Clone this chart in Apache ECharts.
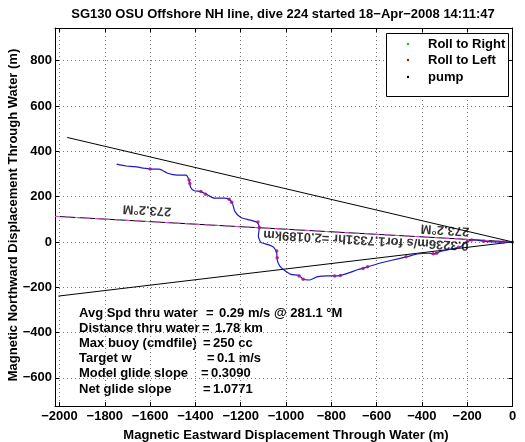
<!DOCTYPE html>
<html><head><meta charset="utf-8">
<script src="https://cdn.jsdelivr.net/npm/echarts@6/dist/echarts.min.js"></script>
<style>html,body{margin:0;padding:0;background:#fff}#c{width:525px;height:442px}</style>
</head><body><div id="c"></div>
<script>
// ---- data (metres) ----
const xTicks = [-2000,-1800,-1600,-1400,-1200,-1000,-800,-600,-400,-200,0];
const yTicks = [-600,-400,-200,0,200,400,600,800];
const trackEast  = [-1748,-1707,-1670,-1626,-1596,-1560,-1523,-1479,-1442,-1428,-1421,-1405,-1376,-1346,-1317,-1273,-1251,-1236,-1226,-1200,-1160,-1126,-1118,-1122,-1111,-1076,-1054,-1041,-1039,-1028,-1010,-979,-942,-924,-895,-864,-817,-773,-729,-684,-639,-587,-538,-464,-420,-369,-347,-318,-273,-229,-201,-171,-112,-53,-9,0];
const trackNorth = [343,335,332,325,321,321,303,295,295,273,240,226,222,207,193,193,188,168,135,108,97,86,64,26,-2,-13,-24,-49,-79,-106,-123,-143,-148,-165,-168,-154,-150,-150,-139,-123,-110,-94,-82,-65,-53,-50,-53,-42,-32,-21,1,9,1,-1,0,0];
const rollLeftEast  = [-1600,-1428,-1425,-1376,-1355,-1251,-1240,-1124,-1118,-1041,-1039,-942,-924,-785,-760,-660,-640,-470,-350,-335,-238,-200,-180,-128,-40];
const rollLeftNorth = [322,273,258,222,210,188,175,88,64,-40,-70,-150,-165,-150,-148,-117,-110,-65,-52,-50,-24,2,8,3,0];
const pumpEast = [0];
const pumpNorth = [0];
const headingEast = [-2020,0];
const headingNorth = [113,0];
const coneUpperEast = [-1966,0];
const coneUpperNorth = [461,0];
const coneLowerEast = [-2005,0];
const coneLowerNorth = [-239,0];
const annoText  = ['273.2°M','273.2°M','0.3236m/s for1.7331hr =2.0189km'];
const annoEast  = [-1614,-298,-647];
const annoNorth = [141,53,9];
const statLabels = ['Avg Spd thru water','Distance thru water','Max buoy (cmdfile)','Target w','Model glide slope','Net glide slope'];
const statValues = ['0.29 m/s @ 281.1 °M','1.78 km','250 cc','0.1 m/s','0.3090','1.0771'];
const legendNames = ['Roll to Right','Roll to Left','pump'];
const legendColors = ['#00cc00','#dd0000','#000000'];

const zip = (a,b) => a.map((v,i)=>[v,b[i]]);
const FONT = 'Liberation Sans';
const fmt = v => String(v).replace('-', '\u2212');

const chart = echarts.init(document.getElementById('c'), null, {renderer:'canvas'});
const XMIN=-2020, XMAX=0, YMIN=-724, YMAX=944;
const tickCommon = {show:true, inside:true, length:4, lineStyle:{color:'#000'}};
const lab = {fontFamily:FONT, fontWeight:'bold', fontSize:13, color:'#000'};
const F13 = 'bold 13px "'+FONT+'"';
const T = (text, x, y, extra) => Object.assign({type:'text', style:Object.assign({text, x, y, textVerticalAlign:'middle', font:F13, fill:'#000'}, extra||{})});

const graphics = [];
graphics.push(T('SG130 OSU Offshore NH line, dive 224 started 18\u2212Apr\u22122008 14:11:47', 283, 14, {textAlign:'center'}));
graphics.push(T('Magnetic Eastward Displacement Through Water (m)', 286, 435, {textAlign:'center'}));
graphics.push({type:'text', x:13, y:215, rotation:Math.PI/2, style:{text:'Magnetic Northward Displacement Through Water (m)', x:0, y:0, textAlign:'center', textVerticalAlign:'middle', font:F13, fill:'#000'}});
const eqX  = [206, 202, 203, 207, 201, 203];
const valX = [219, 215, 213, 217, 211, 213];
statLabels.forEach((t,i)=>{
  const y = 313 + i*15.2;
  graphics.push(T(t, 79, y));
  graphics.push(T('=', eqX[i], y));
  graphics.push(T(statValues[i], valX[i], y));
});
graphics.push({type:'rect', shape:{x:386.5,y:33.5,width:122,height:63}, style:{fill:'#fff', stroke:'#000', lineWidth:1}, z:100});
legendNames.forEach((n,i)=>{
  const y = [44,60,77][i];
  graphics.push({type:'circle', shape:{cx:408, cy:y, r:1.2}, style:{fill:legendColors[i]}, z:101});
  graphics.push(Object.assign(T(n, 428, y), {z:101}));
});

chart.setOption({
  animation:false,
  backgroundColor:'#fff',
  grid:{left:55, top:28, width:457.5, height:378, containLabel:false},
  xAxis:[{
    type:'value', min:XMIN, max:XMAX, position:'bottom',
    axisLine:{show:true, onZero:false, lineStyle:{color:'#000', width:1}},
    axisTick:Object.assign({customValues:xTicks}, tickCommon),
    axisLabel:Object.assign({customValues:xTicks, formatter:fmt, margin:4}, lab),
    splitLine:{show:true, lineStyle:{color:'#777', type:[1,3], width:1}}
  },{
    type:'value', min:XMIN, max:XMAX, position:'top',
    axisLine:{show:true, onZero:false, lineStyle:{color:'#000', width:1}},
    axisTick:Object.assign({customValues:xTicks}, tickCommon),
    axisLabel:{show:false}, splitLine:{show:false}
  }],
  yAxis:[{
    type:'value', min:YMIN, max:YMAX, position:'left',
    axisLine:{show:true, onZero:false, lineStyle:{color:'#000', width:1}},
    axisTick:Object.assign({customValues:yTicks}, tickCommon),
    axisLabel:Object.assign({customValues:yTicks, formatter:fmt, margin:3}, lab),
    splitLine:{show:true, lineStyle:{color:'#777', type:[1,3], width:1}}
  },{
    type:'value', min:YMIN, max:YMAX, position:'right',
    axisLine:{show:true, onZero:false, lineStyle:{color:'#000', width:1}},
    axisTick:Object.assign({customValues:yTicks}, tickCommon),
    axisLabel:{show:false}, splitLine:{show:false}
  }],
  series:[
    {type:'line', data:zip(coneUpperEast,coneUpperNorth), symbol:'none', lineStyle:{color:'#000', width:1}, z:3},
    {type:'line', data:zip(coneLowerEast,coneLowerNorth), symbol:'none', lineStyle:{color:'#000', width:1}, z:3},
    {type:'line', data:zip(headingEast,headingNorth), symbol:'none', lineStyle:{color:'#000', width:1}, z:3},
    {type:'line', data:zip(headingEast,headingNorth), symbol:'none', lineStyle:{color:'#ff44ff', width:1, type:[5,5]}, z:4},
    {type:'line', name:'track', data:zip(trackEast,trackNorth), symbol:'none', smooth:0.2, lineStyle:{color:'#1a1ac8', width:1.2}, z:5},
    {type:'scatter', name:'Roll to Left', data:zip(rollLeftEast,rollLeftNorth), symbolSize:3.5, itemStyle:{color:'#a8187a', opacity:0.85}, z:6},
    {type:'scatter', name:'pump', data:zip(pumpEast,pumpNorth), symbolSize:3, itemStyle:{color:'#000'}, z:7},
    {type:'scatter', name:'anno', data:annoText.map((t,i)=>({value:[annoEast[i],annoNorth[i]], name:t})), symbolSize:0,
     label:{show:true, position:'inside', formatter:p=>p.name, rotate:176.8, fontFamily:FONT, fontWeight:'bold', fontSize:13, color:'#000'}, z:8}
  ],
  graphic:graphics
});
</script></body></html>
